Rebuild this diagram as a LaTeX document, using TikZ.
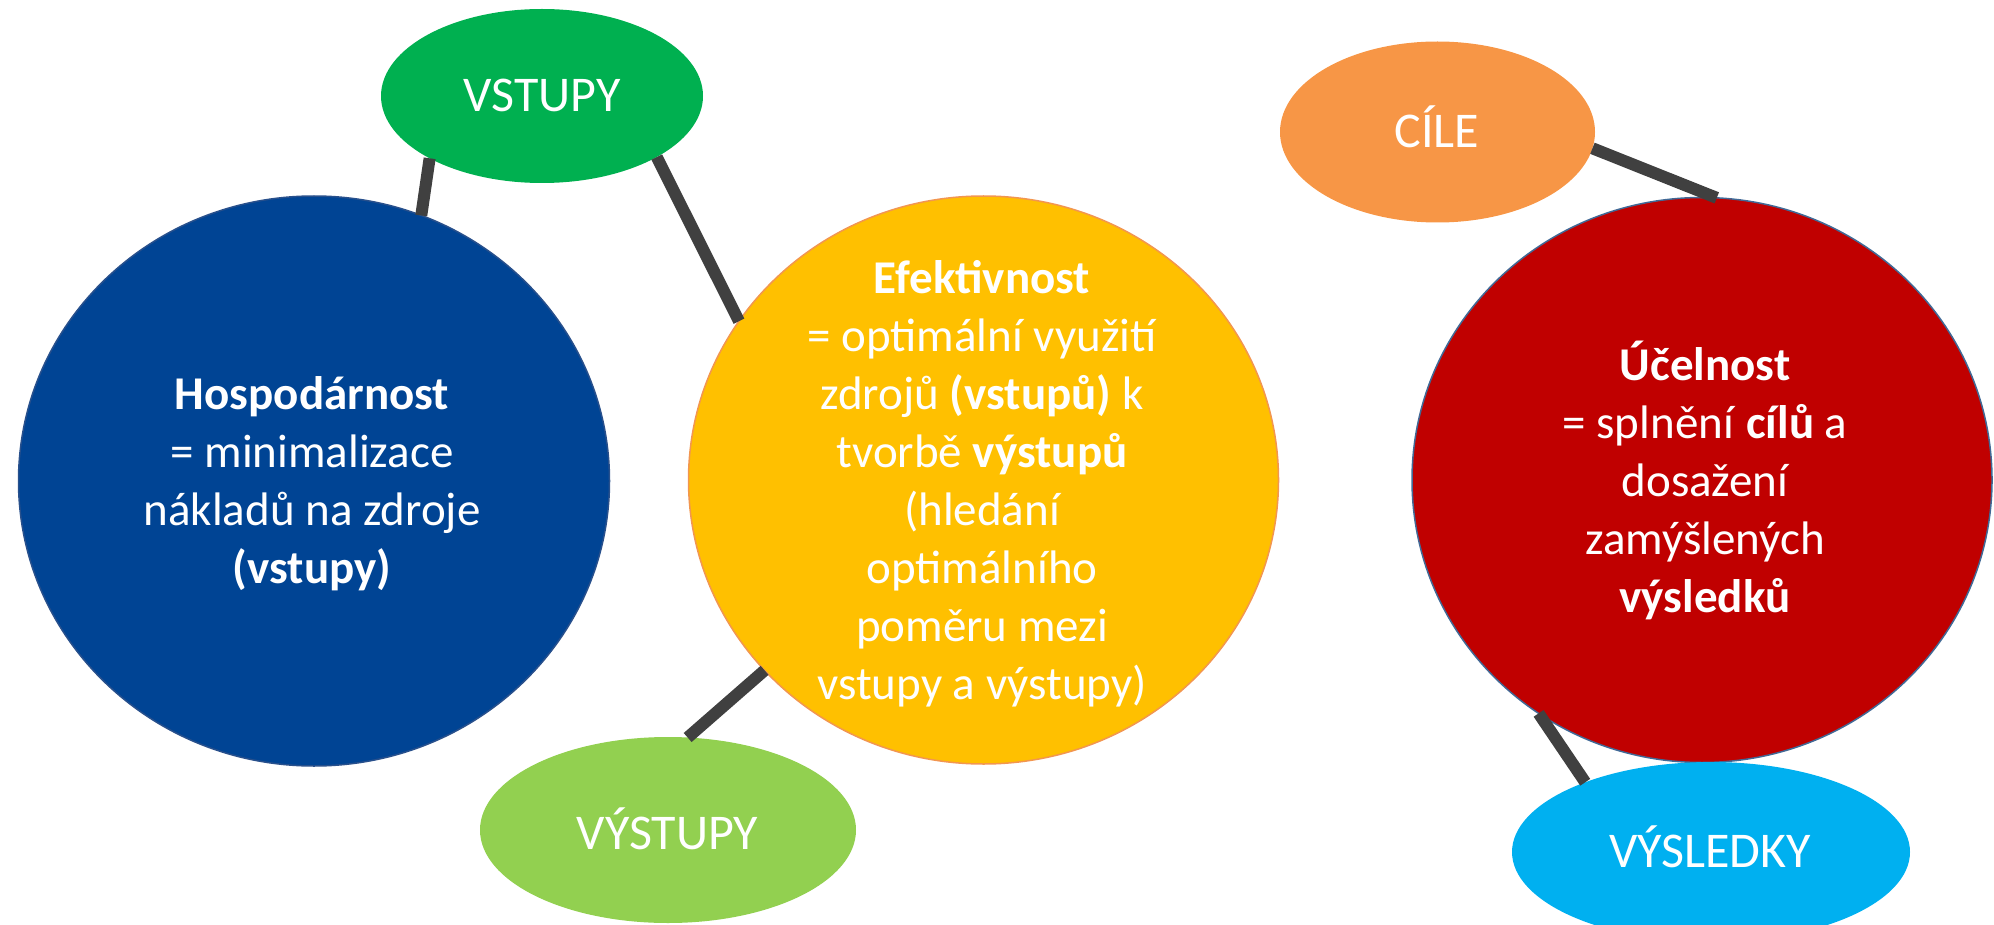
\documentclass[tikz,border=0pt]{standalone}
\usepackage{fontspec}
\setmainfont{Carlito}
\usetikzlibrary{shapes.geometric}
\definecolor{cblue}{RGB}{0,68,148}
\definecolor{cblueb}{RGB}{40,80,140}
\definecolor{cyellow}{RGB}{255,192,0}
\definecolor{cyellowb}{RGB}{242,150,80}
\definecolor{cred}{RGB}{192,0,0}
\definecolor{credb}{RGB}{65,105,150}
\definecolor{cgreen}{RGB}{0,176,80}
\definecolor{clgreen}{RGB}{146,208,80}
\definecolor{corange}{RGB}{247,150,70}
\definecolor{ccyan}{RGB}{0,176,240}
\definecolor{cgray}{RGB}{64,64,64}
\begin{document}
\begin{tikzpicture}[x=1pt,y=-1pt,
  blob/.style={ellipse, inner sep=0pt, outer sep=0pt},
  big/.style={blob, line width=1.5pt},
  txt/.style={text=white, font=\fontsize{47}{58}\selectfont, align=center, inner sep=0pt, anchor=base},
  lbl/.style={text=white, font=\fontsize{50}{58}\selectfont, inner sep=0pt, anchor=base},
  link/.style={draw=cgray, line width=12pt}]
\useasboundingbox (0,0) rectangle (1994,925);
\node[big, fill=cblue, draw=cblueb, minimum width=591pt, minimum height=570pt] (hosp) at (314,481) {};
\node[big, fill=cyellow, draw=cyellowb, minimum width=590pt, minimum height=568pt] (efek) at (983.5,480) {};
\node[big, fill=cred, draw=credb, minimum width=580pt, minimum height=565pt] (ucel) at (1702,480) {};
\node[blob, fill=cgreen, minimum width=322pt, minimum height=174pt] (vstupy) at (542,96) {};
\node[blob, fill=clgreen, minimum width=376pt, minimum height=186pt] (vystupy) at (668,830) {};
\node[blob, fill=corange, minimum width=315pt, minimum height=181pt] (cile) at (1437.5,132) {};
\node[blob, fill=ccyan, minimum width=398pt, minimum height=180pt] (vysledky) at (1711,852) {};
\draw[link] (vstupy.209) -- (hosp.68);
\draw[link] (vstupy.332) -- (efek.147);
\draw[link] (efek.221) -- (vystupy.78);
\draw[link] (cile.354) -- (ucel.87);
\draw[link] (ucel.235) -- (vysledky.151);
\node[lbl] (vstupy-t) at (542,112) {VSTUPY};
\node[lbl] (vystupy-t) at (667.5,849) {VÝSTUPY};
\node[lbl] (cile-t) at (1437,148) {CÍLE};
\node[lbl] (vysledky-t) at (1710,867) {VÝSLEDKY};
\node[txt] (hosp-t) at (312,583) {\textbf{Hospodárnost}\\= minimalizace\\nákladů na zdroje\\\textbf{(vstupy)}};
\node[txt] (efek-t) at (982,699) {\textbf{Efektivnost}\\= optimální využití\\zdrojů \textbf{(vstupů)} k\\tvorbě \textbf{výstupů}\\(hledání\\optimálního\\poměru mezi\\vstupy a výstupy)};
\node[txt] (ucel-t) at (1705,612) {\textbf{Účelnost}\\= splnění \textbf{cílů} a\\dosažení\\zamýšlených\\\textbf{výsledků}};
\end{tikzpicture}
\end{document}
